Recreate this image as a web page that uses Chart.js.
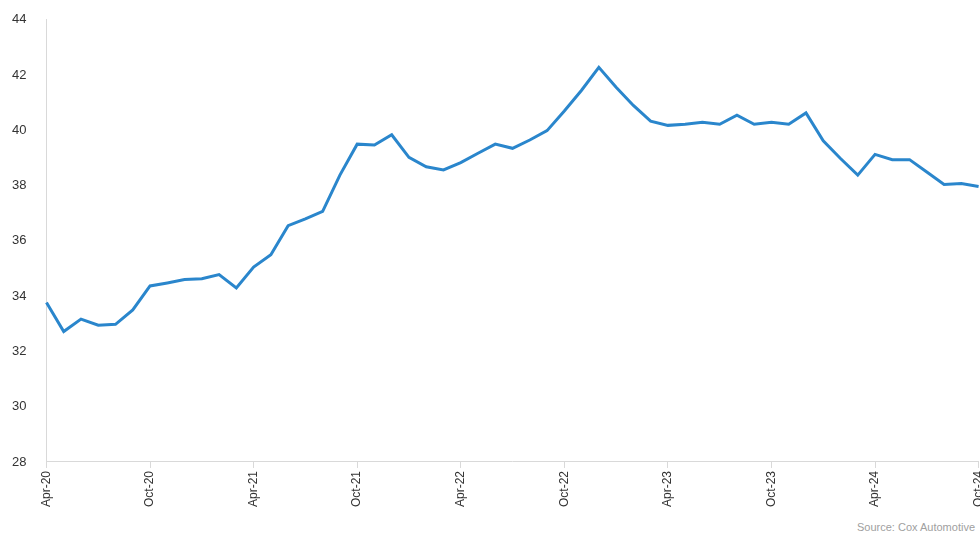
<!DOCTYPE html>
<html>
<head>
<meta charset="utf-8">
<script src="https://cdn.jsdelivr.net/npm/chart.js@4.4.1/dist/chart.umd.min.js"></script>
<style>
  html, body { margin: 0; padding: 0; overflow: hidden; background: #fff; }
  #wrap { position: relative; width: 996px; height: 552px; }
  #source { position: absolute; left: 857px; top: 521px; font: 11px 'Liberation Sans', Arial, sans-serif; color: #a0a0a0; white-space: nowrap; }
</style>
</head>
<body>
<div id="wrap">
  <canvas id="chart" width="996" height="510"></canvas>
  <div id="source">Source: Cox Automotive</div>
</div>
<script>
const monthNames = ['Jan','Feb','Mar','Apr','May','Jun','Jul','Aug','Sep','Oct','Nov','Dec'];
// Monthly labels Apr-20 .. Oct-24
const labels = [];
for (let i = 0; i < 55; i++) {
    const m = (3 + i) % 12;
    const y = 20 + Math.floor((3 + i) / 12);
    labels.push(monthNames[m] + '-' + y);
}

const values = [
    33.77, 32.72, 33.17, 32.95, 32.98, 33.5, 34.37, 34.48, 34.6, 34.63, 34.78, 34.3,
    35.05, 35.5, 36.55, 36.8, 37.07, 38.38, 39.5, 39.47, 39.84, 39.02, 38.68, 38.57,
    38.83, 39.17, 39.5, 39.35, 39.65, 39.99, 40.7, 41.45, 42.28, 41.56, 40.9, 40.33,
    40.18, 40.22, 40.29, 40.22, 40.55, 40.22, 40.29, 40.22, 40.63, 39.62, 38.98, 38.38,
    39.13, 38.94, 38.94, 38.49, 38.04, 38.08, 37.97
];

const yTicks = [28, 30, 32, 34, 36, 38, 40, 42, 44];

new Chart(document.getElementById('chart'), {
    type: 'line',
    data: {
        labels: labels,
        datasets: [{
            data: values,
            borderColor: '#2a86cc',
            borderWidth: 3,
            pointRadius: 0,
            tension: 0,
            fill: false
        }]
    },
    options: {
        responsive: false,
        animation: false,
        layout: { padding: { top: 14, right: 2, left: 0 } },
        plugins: { legend: { display: false }, tooltip: { enabled: false } },
        scales: {
            x: {
                offset: false,
                border: { color: '#d9d9d9', width: 1 },
                grid: {
                    drawOnChartArea: false,
                    tickLength: 6,
                    color: ctx => (ctx.index % 6 === 0 ? '#d9d9d9' : 'rgba(0,0,0,0)')
                },
                ticks: {
                    autoSkip: false,
                    maxRotation: 90,
                    minRotation: 90,
                    color: '#333',
                    font: { family: "'Liberation Sans', Arial, sans-serif", size: 12 },
                    callback: (v, i) => (i % 6 === 0 ? labels[i] : '')
                }
            },
            y: {
                min: 28,
                max: 44,
                afterBuildTicks: axis => { axis.ticks = yTicks.map(v => ({ value: v })); },
                border: { color: '#d9d9d9', width: 1 },
                grid: { display: false },
                ticks: {
                    color: '#333',
                    padding: 12,
                    font: { family: "'Liberation Sans', Arial, sans-serif", size: 13 }
                }
            }
        }
    }
});
</script>
</body>
</html>
